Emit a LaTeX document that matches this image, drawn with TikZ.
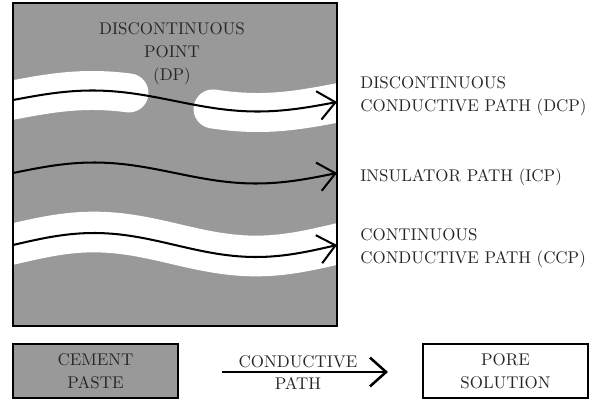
\documentclass[tikz,border=0pt]{standalone}
\usetikzlibrary{arrows.meta}
\definecolor{paste}{HTML}{999999}
\begin{document}
\begin{tikzpicture}[x=0.59pt,y=-0.59pt,
  lbl/.style={text=black!85, align=left, anchor=west, inner sep=0pt},
  ctr/.style={text=black!85, align=center, inner sep=0pt},
  flow/.style={line width=1.2pt, -{Straight Barb[length=10pt,width=17pt,line width=1.2pt]}},
  band/.style={white, line width=23pt},
  legendbox/.style={draw=black, line width=0.8pt, minimum width=97.4pt, minimum height=31.9pt, inner sep=0pt, text=black!85, align=center}]
\useasboundingbox (0,0) rectangle (602,403);
% main square
\begin{scope}
  \clip (13,3) rectangle (337,326);
  \fill[paste] (13,3) rectangle (337,326);
  \draw[band, line cap=round] plot[domain=5:129, samples=40] (\x, {100 + 0.00617*(\x-13) - 10*sin(1.11111*(\x-13))});
  \draw[band, line cap=round] plot[domain=213:345, samples=40] (\x, {101 + 0.00617*(\x-13) - 10*sin(1.11111*(\x-13))});
  \draw[white, line width=24pt] plot[domain=5:345, samples=60] (\x, {244 - 12*sin(1.11111*(\x-13))});
\end{scope}
\draw[line width=0.8pt] (13,3) rectangle (337,326);
% flow arrows
\draw[flow] plot[domain=13:337, samples=60] (\x, {100 + 0.00617*(\x-13) - 10*sin(1.11111*(\x-13))});
\draw[flow] plot[domain=13:337, samples=60] (\x, {173 - 10.5*sin(1.11111*(\x-13))});
\draw[flow] plot[domain=13:337, samples=60] (\x, {245 - 12*sin(1.11111*(\x-13))});
% labels
\node[ctr] (dp) at (172,54) {DISCONTINUOUS\\[1.5pt]POINT\\[1.5pt](DP)};
\node[lbl] (dcp) at (360,96) {DISCONTINUOUS\\[1.5pt]CONDUCTIVE PATH (DCP)};
\node[lbl] (icp) at (360,177) {INSULATOR PATH (ICP)};
\node[lbl] (ccp) at (360,248) {CONTINUOUS\\[1.5pt]CONDUCTIVE PATH (CCP)};
% legend
\node[legendbox, fill=paste] (cem) at (95.5,371) {CEMENT\\[1.5pt]PASTE};
\node[legendbox, fill=white] (pore) at (505.5,371) {PORE\\[1.5pt]SOLUTION};
\coordinate (cs) at (222,372);
\coordinate (ce) at (388,372);
\draw[line width=1.5pt, -{Straight Barb[length=9.5pt,width=17pt,line width=1.5pt]}] (cs) -- (ce);
\node[ctr] (cond) at (298,362) {CONDUCTIVE};
\node[ctr] (pth) at (298,383) {PATH};
\end{tikzpicture}
\end{document}
